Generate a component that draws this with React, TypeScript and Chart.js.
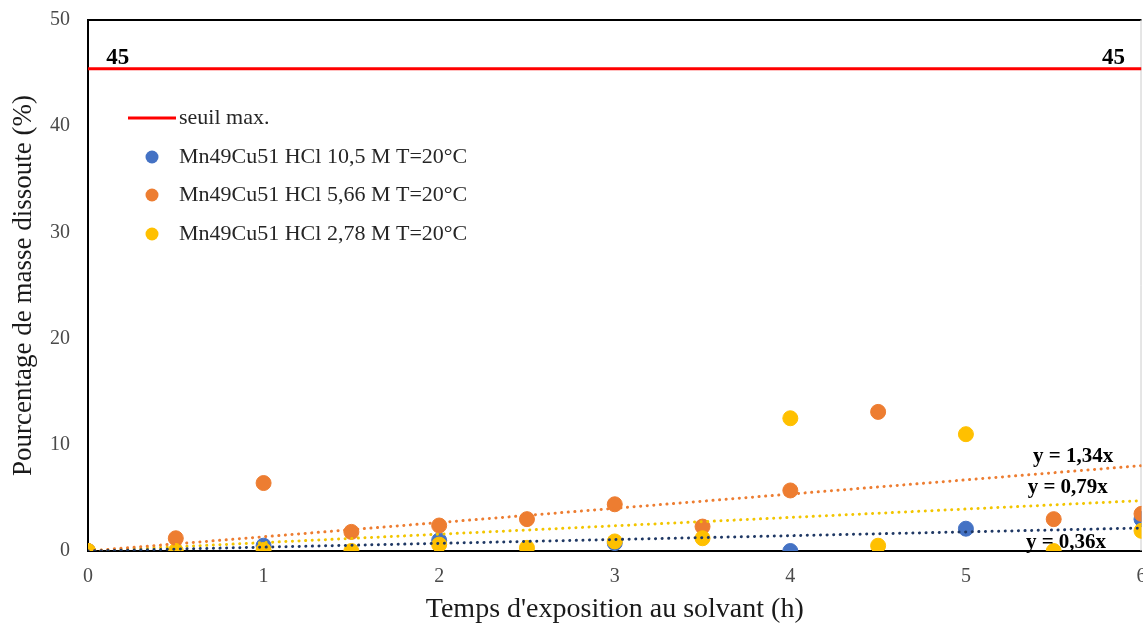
import React, { useEffect, useRef } from "react";
import { Chart, registerables } from "chart.js";

Chart.register(...registerables);

const FONT = "'Liberation Serif', 'Times New Roman', serif";

const seriesLabels = [
  "seuil max.",
  "Mn49Cu51 HCl 10,5 M T=20°C",
  "Mn49Cu51 HCl 5,66 M T=20°C",
  "Mn49Cu51 HCl 2,78 M T=20°C",
];
const seriesColors = ["#FF0000", "#4472C4", "#ED7D31", "#FFC000"];
const trendColors = ["#1F3864", "#ED7D31", "#F2C500"];

const threshold = 45.4;
const thresholdLabel = "45";

const timeBlue = [0, 1, 2, 3, 4, 5, 6];
const valBlue = [0, 0.5, 1.0, 0.75, 0, 2.1, 3.0];

const timeOrange = [0, 0.5, 1, 1.5, 2, 2.5, 3, 3.5, 4, 4.5, 5.5, 6];
const valOrange = [0, 1.2, 6.4, 1.8, 2.4, 3.0, 4.4, 2.3, 5.7, 13.1, 3.0, 3.5];

const timeYellow = [0, 0.5, 1, 1.5, 2, 2.5, 3, 3.5, 4, 4.5, 5, 5.5, 6];
const valYellow = [0, 0, 0.1, 0, 0.6, 0.3, 0.9, 1.2, 12.5, 0.5, 11.0, 0, 1.9];

const trendSlopes = [0.36, 1.34, 0.79];
const trendLabels = ["y = 0,36x", "y = 1,34x", "y = 0,79x"];
const trendRange = [0, 6];

const xTicks = [0, 1, 2, 3, 4, 5, 6];
const yTicks = [0, 10, 20, 30, 40, 50];

const toPts = (xs: number[], ys: number[]) => xs.map((x, i) => ({ x, y: ys[i] }));

const overlay = {
  id: "overlay",
  beforeDatasetsDraw(chart: any) {
    const { ctx, chartArea } = chart;
    ctx.save();
    ctx.strokeStyle = "#000";
    ctx.lineWidth = 2;
    ctx.beginPath();
    ctx.moveTo(chartArea.left, chartArea.top);
    ctx.lineTo(chartArea.right, chartArea.top);
    ctx.stroke();
    ctx.strokeStyle = "#cccccc";
    ctx.lineWidth = 1;
    ctx.beginPath();
    ctx.moveTo(chartArea.right - 0.5, chartArea.top);
    ctx.lineTo(chartArea.right - 0.5, chartArea.bottom);
    ctx.stroke();
    ctx.restore();
  },
  afterDatasetsDraw(chart: any) {
    const { ctx, scales } = chart;
    const xs = scales.x;
    const ys = scales.y;
    ctx.save();
    ctx.fillStyle = "#000";
    ctx.textBaseline = "middle";
    ctx.font = `bold 23px ${FONT}`;
    ctx.textAlign = "center";
    ctx.fillText(thresholdLabel, xs.getPixelForValue(0.17), ys.getPixelForValue(46.4));
    ctx.fillText(thresholdLabel, xs.getPixelForValue(5.84), ys.getPixelForValue(46.4));
    ctx.font = `bold 21px ${FONT}`;
    const labelPos = [
      [5.57, 0.75],
      [5.61, 8.85],
      [5.58, 6.0],
    ];
    trendLabels.forEach((t, i) => {
      ctx.fillText(t, xs.getPixelForValue(labelPos[i][0]), ys.getPixelForValue(labelPos[i][1]));
    });
    ctx.restore();
  },
  afterDraw(chart: any) {
    const { ctx, chartArea } = chart;
    const L = chartArea.left;
    const T = chartArea.top;
    ctx.save();
    ctx.font = `22px ${FONT}`;
    ctx.fillStyle = "#262626";
    ctx.textBaseline = "middle";
    ctx.textAlign = "left";
    ctx.strokeStyle = seriesColors[0];
    ctx.lineWidth = 3;
    ctx.beginPath();
    ctx.moveTo(L + 40, T + 98);
    ctx.lineTo(L + 88, T + 98);
    ctx.stroke();
    ctx.fillText(seriesLabels[0], L + 91, T + 98);
    const rows = [137, 175, 214];
    rows.forEach((r, i) => {
      ctx.fillStyle = seriesColors[i + 1];
      ctx.beginPath();
      ctx.arc(L + 64, T + r, 6.5, 0, Math.PI * 2);
      ctx.fill();
      ctx.fillStyle = "#262626";
      ctx.fillText(seriesLabels[i + 1], L + 91, T + r);
    });
    ctx.restore();
  },
};

export default function App() {
  const ref = useRef<HTMLCanvasElement | null>(null);
  useEffect(() => {
    document.body.style.margin = "0";
    const canvas = ref.current!;
    const trendData = trendSlopes.map((s) => trendRange.map((x) => ({ x, y: s * x })));
    const chart = new Chart(canvas, {
      type: "scatter",
      data: {
        datasets: [
          ...trendData.map((d, i) => ({
            type: "line" as const,
            label: trendLabels[i],
            data: d,
            borderColor: trendColors[i],
            borderWidth: 3,
            borderDash: [0.1, 6.5],
            borderCapStyle: "round" as const,
            pointRadius: 0,
            fill: false,
            order: 0,
          })),
          {
            label: seriesLabels[3],
            data: toPts(timeYellow, valYellow),
            backgroundColor: seriesColors[3],
            borderColor: seriesColors[3],
            pointRadius: 7.5,
            order: 1,
          },
          {
            label: seriesLabels[2],
            data: toPts(timeOrange, valOrange),
            backgroundColor: seriesColors[2],
            borderColor: seriesColors[2],
            pointRadius: 7.5,
            order: 2,
          },
          {
            label: seriesLabels[1],
            data: toPts(timeBlue, valBlue),
            backgroundColor: seriesColors[1],
            borderColor: seriesColors[1],
            pointRadius: 7.5,
            order: 3,
          },
          {
            type: "line" as const,
            label: seriesLabels[0],
            data: trendRange.map((x) => ({ x, y: threshold })),
            borderColor: seriesColors[0],
            borderWidth: 3,
            pointRadius: 0,
            fill: false,
            order: 4,
          },
        ],
      },
      options: {
        animation: false,
        responsive: false,
        layout: { padding: { top: 20, right: 0, left: 0, bottom: 0 } },
        plugins: {
          legend: { display: false },
          tooltip: { enabled: false },
        },
        scales: {
          x: {
            type: "linear",
            min: xTicks[0],
            max: xTicks[xTicks.length - 1],
            grid: { display: false, drawTicks: false },
            border: { display: true, color: "#000", width: 2 },
            afterBuildTicks: (s: any) => {
              s.ticks = xTicks.map((v) => ({ value: v }));
            },
            afterFit: (s: any) => {
              s.height = 75;
              s.paddingRight = 0;
              s.paddingLeft = 0;
            },
            ticks: {
              padding: 14,
              color: "#4a4a4a",
              font: { family: FONT, size: 20 },
            },
            title: {
              display: true,
              text: "Temps d'exposition au solvant (h)",
              color: "#1a1a1a",
              font: { family: FONT, size: 28 },
              padding: { top: 0, bottom: 0 },
            },
          },
          y: {
            type: "linear",
            min: yTicks[0],
            max: yTicks[yTicks.length - 1],
            grid: { display: false, drawTicks: false },
            border: { display: true, color: "#000", width: 2 },
            afterBuildTicks: (s: any) => {
              s.ticks = yTicks.map((v) => ({ value: v }));
            },
            afterFit: (s: any) => {
              s.width = 88;
              s.paddingTop = 0;
              s.paddingBottom = 0;
            },
            ticks: {
              padding: 18,
              color: "#4a4a4a",
              font: { family: FONT, size: 20 },
            },
            title: {
              display: true,
              text: "Pourcentage de masse dissoute (%)",
              color: "#1a1a1a",
              font: { family: FONT, size: 27 },
              padding: { top: 8, bottom: 0 },
            },
          },
        },
      },
      plugins: [overlay],
    } as any);
    return () => chart.destroy();
  }, []);
  return (
    <div
      style={{
        position: "absolute",
        left: 0,
        top: 0,
        width: 1143,
        height: 626,
        overflow: "hidden",
        background: "#fff",
      }}
    >
      <canvas ref={ref} width={1150} height={626} style={{ display: "block" }} />
    </div>
  );
}
